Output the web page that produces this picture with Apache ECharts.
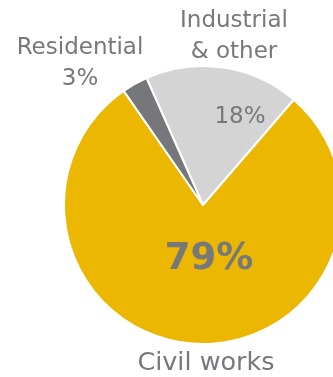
<!DOCTYPE html>
<html>
<head>
<meta charset="utf-8">
<script src="https://cdn.jsdelivr.net/npm/echarts@6/dist/echarts.min.js"></script>
<style>
html,body{margin:0;padding:0;background:#fff;}
#chart{width:333px;height:377px;}
</style>
</head>
<body>
<div id="chart"></div>
<script>
// Data (clockwise from the start angle)
var categories = ['Industrial\n& other', 'Civil works', 'Residential'];
var values = [18, 79, 3];
var colors = ['#D4D4D4', '#EBB700', '#76777A'];

var TEXT = '#76787B';
var FONT = 'DejaVu Sans';

// label anchor positions (pixels), per slice
var pctPos = [[240, 117], [209, 259], null];
var namePos = [[234, 37], [206, 363], [80, 64]];

var chart = echarts.init(document.getElementById('chart'), null, {renderer: 'canvas'});

var sliceData = categories.map(function (c, i) {
  return {
    name: c,
    value: values[i],
    itemStyle: {color: colors[i]},
    label: {show: i !== 2}
  };
});
var nameData = categories.map(function (c, i) {
  return {name: c, value: values[i]};
});

function layoutFrom(pos) {
  return function (params) {
    var p = pos[params.dataIndex];
    if (!p) return {};
    return {x: p[0], y: p[1], align: 'center', verticalAlign: 'middle', hideOverlap: false, moveOverlap: null};
  };
}

chart.setOption({
  animation: false,
  backgroundColor: '#ffffff',
  series: [
    {
      type: 'pie',
      center: [203, 205],
      radius: [0, 139],
      startAngle: 114,
      clockwise: true,
      silent: true,
      itemStyle: {borderColor: '#ffffff', borderWidth: 2},
      label: {
        show: true,
        position: 'inside',
        color: TEXT,
        fontFamily: FONT,
        overflow: 'none',
        formatter: function (p) {
          if (p.dataIndex === 1) return '{big|' + p.value + '%}';
          return p.value + '%';
        },
        fontSize: 23,
        rich: {
          big: {fontSize: 37, fontWeight: 'bold', color: TEXT, fontFamily: FONT}
        }
      },
      labelLine: {show: false},
      labelLayout: layoutFrom(pctPos),
      data: sliceData
    },
    {
      type: 'pie',
      center: [203, 205],
      radius: [0, 139],
      startAngle: 114,
      clockwise: true,
      silent: true,
      z: 3,
      itemStyle: {color: 'rgba(0,0,0,0)', borderWidth: 0},
      label: {
        show: true,
        position: 'outside',
        alignTo: 'none',
        overflow: 'none',
        bleedMargin: 0,
        color: TEXT,
        fontFamily: FONT,
        fontSize: 23,
        lineHeight: 31,
        align: 'center',
        formatter: function (p) {
          if (p.dataIndex === 2) return p.name + '\n' + p.value + '%';
          if (p.dataIndex === 1) return '{cw|' + p.name + '}';
          return p.name;
        },
        rich: {
          cw: {fontSize: 25.5, color: TEXT, fontFamily: FONT}
        }
      },
      labelLine: {show: false},
      labelLayout: layoutFrom(namePos),
      data: nameData
    }
  ]
});
</script>
</body>
</html>
